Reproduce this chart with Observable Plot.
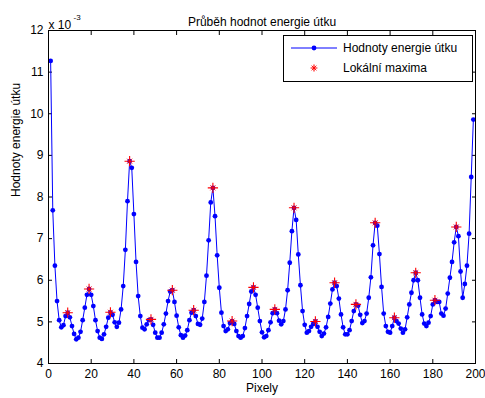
<!DOCTYPE html>
<html>
<head>
<meta charset="utf-8">
<script src="https://cdn.jsdelivr.net/npm/d3@7"></script>
<script src="https://cdn.jsdelivr.net/npm/@observablehq/plot@0.6"></script>
<style>
  html, body { margin: 0; padding: 0; background: #fff; }
  #chart svg { display: block; }
</style>
</head>
<body>
<div id="chart"></div>
<script>
// Energy values (units of 10^-3) for pixels 1..199
const energy = [
  11.27, 7.68, 6.35, 5.50, 5.04, 4.87, 4.92, 5.14, 5.22, 5.11,
  4.90, 4.71, 4.58, 4.62, 4.76, 5.04, 5.34, 5.65, 5.79, 5.65,
  5.38, 5.04, 4.78, 4.62, 4.59, 4.70, 4.88, 5.10, 5.23, 5.17,
  4.99, 4.88, 4.98, 5.30, 5.86, 6.73, 7.90, 8.86, 8.70, 7.59,
  6.44, 5.62, 5.14, 4.86, 4.82, 4.94, 5.04, 5.06, 4.93, 4.74,
  4.62, 4.62, 4.74, 4.94, 5.20, 5.50, 5.73, 5.76, 5.48, 5.15,
  4.87, 4.68, 4.62, 4.67, 4.80, 5.04, 5.22, 5.28, 5.14, 4.95,
  4.93, 5.08, 5.48, 6.11, 6.96, 7.87, 8.22, 7.54, 6.60, 5.82,
  5.22, 4.90, 4.78, 4.82, 4.97, 5.02, 4.95, 4.78, 4.66, 4.62,
  4.66, 4.85, 5.14, 5.43, 5.73, 5.83, 5.65, 5.34, 5.02, 4.75,
  4.63, 4.66, 4.80, 4.99, 5.21, 5.30, 5.21, 5.03, 4.94, 5.02,
  5.30, 5.76, 6.42, 7.18, 7.74, 7.45, 6.62, 5.88, 5.26, 4.93,
  4.74, 4.78, 4.88, 4.95, 5.01, 4.88, 4.76, 4.66, 4.72, 4.87,
  5.12, 5.44, 5.78, 5.94, 5.86, 5.56, 5.18, 4.87, 4.70, 4.70,
  4.80, 5.02, 5.26, 5.42, 5.39, 5.17, 4.97, 5.02, 5.20, 5.58,
  6.07, 6.84, 7.38, 7.31, 6.63, 5.84, 5.20, 4.90, 4.76, 4.74,
  4.90, 5.10, 5.02, 4.96, 4.84, 4.74, 4.82, 5.11, 5.42, 5.70,
  6.00, 6.18, 6.00, 5.58, 5.18, 4.96, 4.90, 4.98, 5.14, 5.42,
  5.52, 5.48, 5.48, 5.20, 5.15, 5.32, 5.68, 6.06, 6.44, 6.91,
  7.28, 7.06, 6.21, 5.58, 5.91, 6.35, 7.12, 8.48, 9.86
];
// Pixel positions of the local maxima
const maximaPixels = [9, 19, 29, 38, 48, 58, 68, 77, 86, 96, 106, 115, 125, 134, 144, 153, 162, 172, 181, 191];

const xTicks = [0, 20, 40, 60, 80, 100, 120, 140, 160, 180, 200];
const yTicks = [4, 5, 6, 7, 8, 9, 10, 11, 12];

const titleText = "Průběh hodnot energie útku";
const xLabel = "Pixely";
const yLabel = "Hodnoty energie útku";
const scaleBase = "x 10";
const scaleExp = "-3";
const seriesNames = ["Hodnoty energie útku", "Lokální maxima"];

const series = energy.map((v, i) => ({pixel: i + 1, value: v}));
const maxima = maximaPixels.map(p => ({pixel: p, value: energy[p - 1]}));

const font = "'Liberation Sans', Arial, Helvetica, sans-serif";
const blue = "#0000ff";
const red = "#ff0000";

const svg = Plot.plot({
  width: 485,
  height: 398,
  marginLeft: 48,
  marginRight: 10,
  marginTop: 30,
  marginBottom: 35,
  style: {fontFamily: font, fontSize: "12px", color: "#000", background: "#fff", overflow: "visible"},
  x: {domain: [0, 200]},
  y: {domain: [4, 12]},
  marks: [
    Plot.axisX(xTicks, {anchor: "bottom", tickSize: -4, tickPadding: 10, label: null, fontSize: 12}),
    Plot.axisX(xTicks, {anchor: "top", tickSize: -4, tickFormat: () => "", label: null}),
    Plot.axisY(yTicks, {anchor: "left", tickSize: -4, tickPadding: 9, label: null, fontSize: 12}),
    Plot.axisY(yTicks, {anchor: "right", tickSize: -4, tickFormat: () => "", label: null}),
    Plot.line(series, {x: "pixel", y: "value", stroke: blue, strokeWidth: 1}),
    Plot.dot(series, {x: "pixel", y: "value", r: 2.4, fill: blue, stroke: "none"}),
    Plot.dot(maxima, {x: "pixel", y: "value", symbol: "plus", r: 3.4, stroke: red, strokeWidth: 1.1}),
    Plot.dot(maxima, {x: "pixel", y: "value", symbol: "times", r: 2.4, stroke: red, strokeWidth: 0.9}),
    Plot.frame({stroke: "#000", strokeWidth: 1}),
    Plot.text([titleText], {text: d => d, frameAnchor: "top", dy: -13, fontSize: 12}),
    Plot.text([xLabel], {text: d => d, frameAnchor: "bottom", dy: 28, fontSize: 12}),
    Plot.text([yLabel], {text: d => d, frameAnchor: "left", dx: -32, rotate: -90, fontSize: 12}),
    Plot.text([scaleBase], {text: d => d, frameAnchor: "top-left", dx: 0, dy: -10, textAnchor: "start", fontSize: 12}),
    Plot.text([scaleExp], {text: d => d, frameAnchor: "top-left", dx: 25, dy: -16, textAnchor: "start", fontSize: 8})
  ]
});

// Legend box (MATLAB style, upper right inside the axes)
const g = d3.select(svg).append("g")
  .attr("font-family", font).attr("font-size", 12).attr("text-anchor", "start");
const lx = 283, ly = 35, lw = 189, lh = 46;
g.append("rect").attr("x", lx + 0.5).attr("y", ly + 0.5).attr("width", lw).attr("height", lh)
  .attr("fill", "#fff").attr("stroke", "#000").attr("stroke-width", 1);
const rows = [ly + 13, ly + 33];
// row 1: line with dot
g.append("line").attr("x1", lx + 8).attr("x2", lx + 54).attr("y1", rows[0]).attr("y2", rows[0])
  .attr("stroke", blue).attr("stroke-width", 1);
g.append("circle").attr("cx", lx + 31).attr("cy", rows[0]).attr("r", 2.4).attr("fill", blue);
// row 2: red star
const sx = lx + 31, sy = rows[1];
g.append("path").attr("d", `M${sx - 3.4},${sy}H${sx + 3.4}M${sx},${sy - 3.4}V${sy + 3.4}`)
  .attr("stroke", red).attr("stroke-width", 1.1).attr("fill", "none");
g.append("path").attr("d", `M${sx - 2.4},${sy - 2.4}L${sx + 2.4},${sy + 2.4}M${sx - 2.4},${sy + 2.4}L${sx + 2.4},${sy - 2.4}`)
  .attr("stroke", red).attr("stroke-width", 0.9).attr("fill", "none");
seriesNames.forEach((name, i) => {
  g.append("text").attr("x", lx + 60).attr("y", rows[i]).attr("dy", "0.35em")
    .attr("text-anchor", "start").text(name);
});

document.getElementById("chart").appendChild(svg);
</script>
</body>
</html>
